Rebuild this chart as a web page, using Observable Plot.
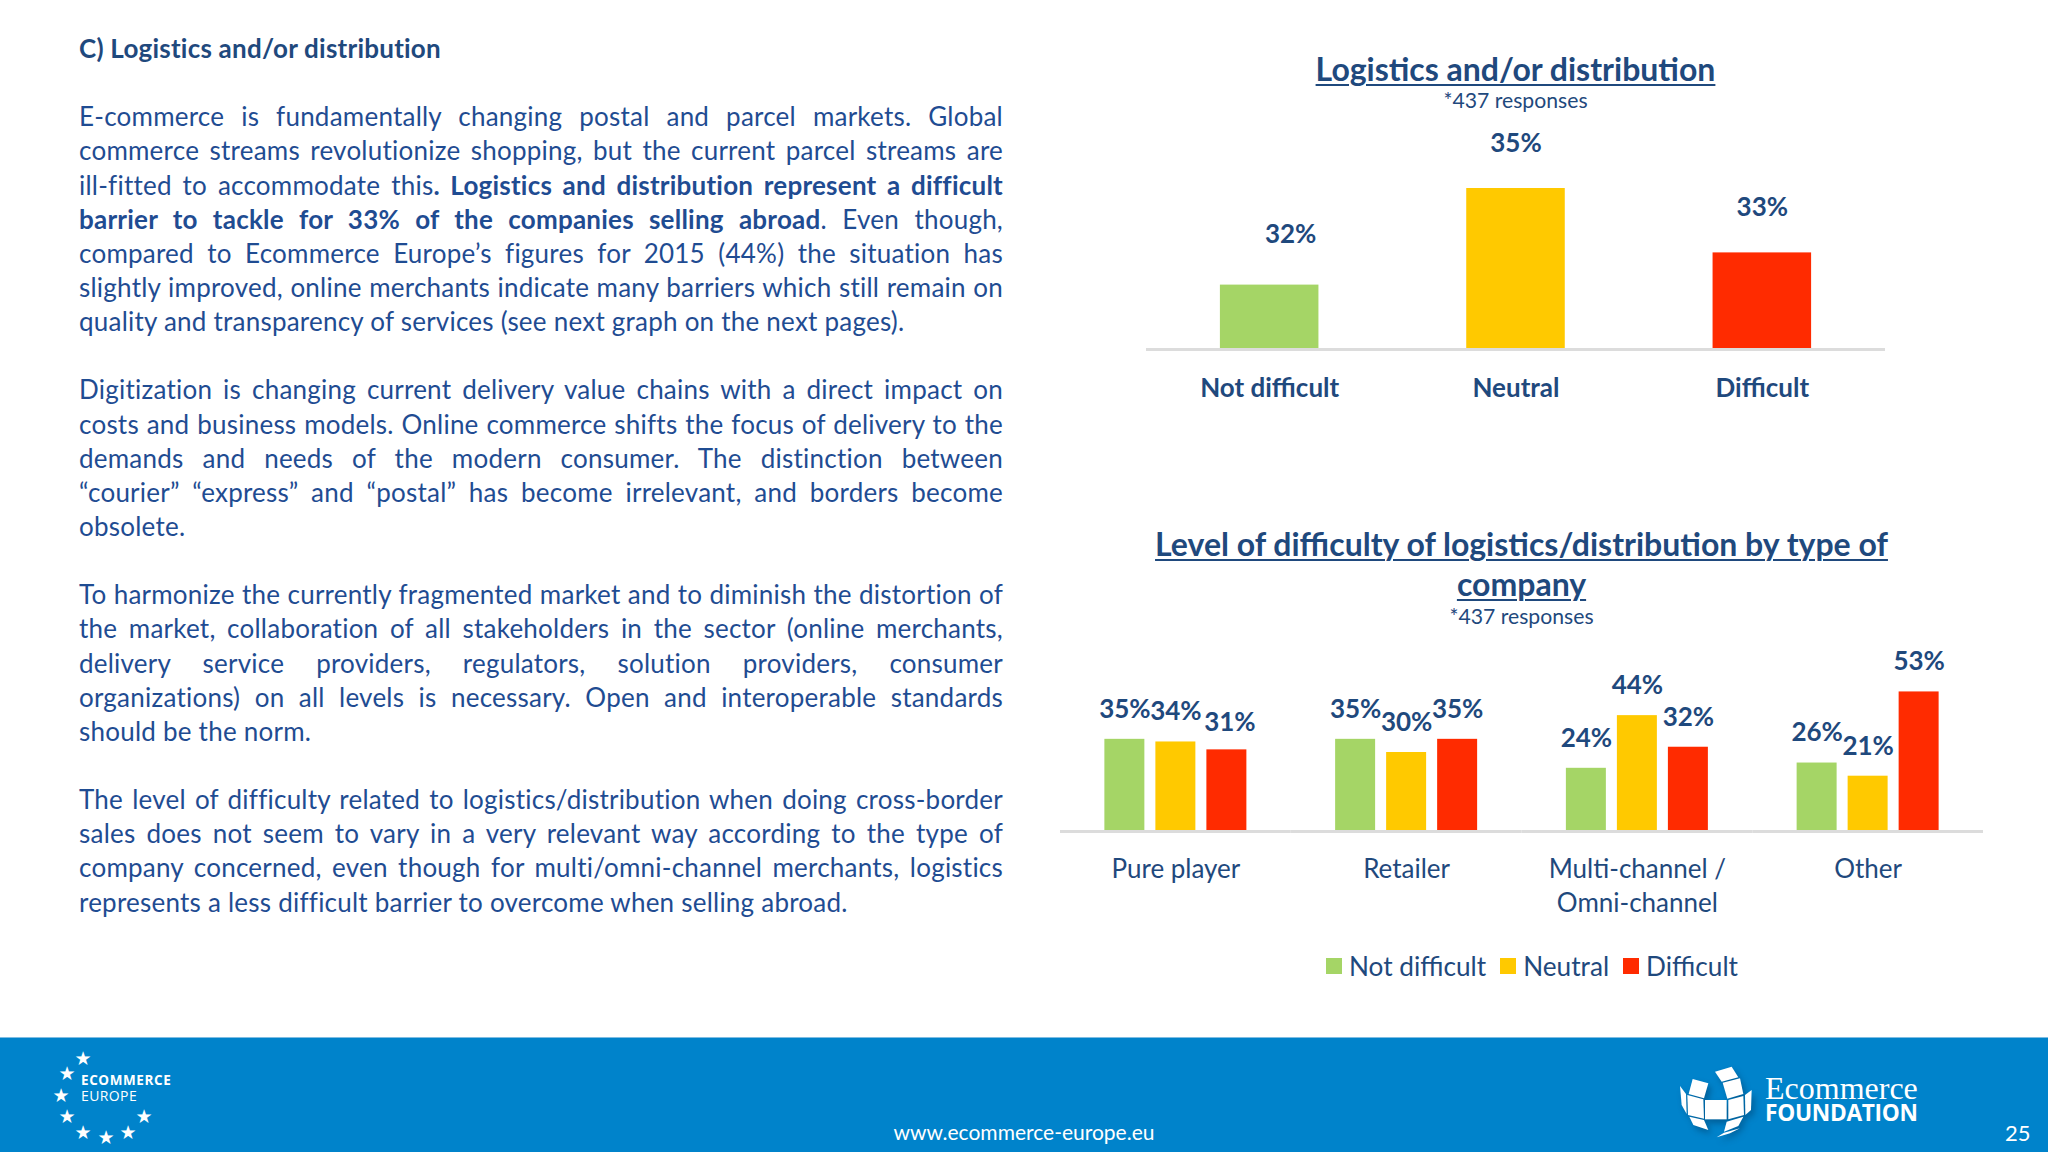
<!DOCTYPE html>
<html lang="en">
<head>
<meta charset="utf-8">
<title>Logistics and/or distribution</title>
<script src="https://cdn.jsdelivr.net/npm/d3@7"></script>
<script src="https://cdn.jsdelivr.net/npm/@observablehq/plot@0.6"></script>
<style>
  html, body { margin: 0; padding: 0; background: #fff; }
  #page { position: relative; width: 2048px; height: 1152px; overflow: hidden; background: #fff; font-family: Lato, sans-serif; color: #1f4a8c; }
  .abs { position: absolute; }
  #body { left: 79px; top: 31px; width: 924px; font-size: 26px; letter-spacing: .23px; line-height: 34.15px; color: #1f4c92; }
  #body .l { text-align: justify; text-align-last: justify; white-space: normal; height: 34.15px; }
  #body .e { text-align: left; text-align-last: left; white-space: nowrap; }
  #body .h { color: #1f497d; font-weight: 700; text-align-last: left; }
  #body b { font-weight: 700; }
  .title { color: #1f497d; font-weight: 700; text-align: center; text-decoration: underline; text-decoration-thickness: 2px; text-underline-offset: 3px; white-space: nowrap; }
  .sub { color: #1f497d; text-align: center; white-space: nowrap; }
  #legend { left: 1326px; top: 949px; display: flex; align-items: center; color: #1f497d; font-size: 26.2px; height: 34px; white-space: nowrap; }
  #legend .sw { width: 16px; height: 16px; margin-right: 7px; }
  #legend .it { display: flex; align-items: center; margin-right: 14px; }
  #banner { left: 0; top: 1037px; width: 2048px; height: 115px; background: #0083cb; border-top: 1px solid #7fbde2; box-sizing: border-box; }
  .w { color: #fff; white-space: nowrap; line-height: 1; }
  .star { font-family: "DejaVu Sans"; color: #fff; font-size: 19px; line-height: 1; transform: translate(-50%, -50%); }
</style>
</head>
<body>
<div id="page">
  <div id="body" class="abs">
    <div class="l h">C) Logistics and/or distribution</div>
    <div class="l"></div>
    <div class="l">E-commerce is fundamentally changing postal and parcel markets. Global</div>
    <div class="l">commerce streams revolutionize shopping, but the current parcel streams are</div>
    <div class="l">ill-fitted to accommodate this<b>. Logistics and distribution represent a difficult</b></div>
    <div class="l"><b>barrier to tackle for 33% of the companies selling abroad</b>. Even though,</div>
    <div class="l">compared to Ecommerce Europe’s figures for 2015 (44%) the situation has</div>
    <div class="l">slightly improved, online merchants indicate many barriers which still remain on</div>
    <div class="l e">quality and transparency of services (see next graph on the next pages).</div>
    <div class="l"></div>
    <div class="l">Digitization is changing current delivery value chains with a direct impact on</div>
    <div class="l">costs and business models. Online commerce shifts the focus of delivery to the</div>
    <div class="l">demands and needs of the modern consumer. The distinction between</div>
    <div class="l">“courier” “express” and “postal” has become irrelevant, and borders become</div>
    <div class="l e">obsolete.</div>
    <div class="l"></div>
    <div class="l">To harmonize the currently fragmented market and to diminish the distortion of</div>
    <div class="l">the market, collaboration of all stakeholders in the sector (online merchants,</div>
    <div class="l">delivery service providers, regulators, solution providers, consumer</div>
    <div class="l">organizations) on all levels is necessary. Open and interoperable standards</div>
    <div class="l e">should be the norm.</div>
    <div class="l"></div>
    <div class="l">The level of difficulty related to logistics/distribution when doing cross-border</div>
    <div class="l">sales does not seem to vary in a very relevant way according to the type of</div>
    <div class="l">company concerned, even though for multi/omni-channel merchants, logistics</div>
    <div class="l e">represents a less difficult barrier to overcome when selling abroad.</div>
  </div>

  <div class="abs title" style="left:1146px;width:739px;top:49px;font-size:32px;line-height:40px;">Logistics and/or distribution</div>
  <div class="abs sub" style="left:1146px;width:739px;top:86px;font-size:21.2px;line-height:28px;">*437 responses</div>
  <div id="chart1" class="abs" style="left:1146px;top:110px;"></div>

  <div class="abs title" style="left:1060px;width:923px;top:524px;font-size:32px;line-height:40px;">Level of difficulty of logistics/distribution by type of</div>
  <div class="abs title" style="left:1060px;width:923px;top:564px;font-size:32px;line-height:40px;">company</div>
  <div class="abs sub" style="left:1060px;width:923px;top:602px;font-size:21.2px;line-height:28px;">*437 responses</div>
  <div id="chart2" class="abs" style="left:1060px;top:640px;"></div>
  <div id="legend" class="abs"></div>

  <div id="banner" class="abs"></div>
  <div id="stars"></div>
  <div class="abs w" style="left:81px;top:1074px;font-size:13.5px;font-weight:700;letter-spacing:.6px;font-family:'Open Sans';">ECOMMERCE</div>
  <div class="abs w" style="left:81px;top:1089px;font-size:14px;letter-spacing:.4px;font-family:'Open Sans';">EUROPE</div>
  <div class="abs w" style="left:0;width:2048px;top:1121px;text-align:center;font-size:21px;">www.ecommerce-europe.eu</div>
  <svg class="abs" style="left:1600px;top:1020px;filter:drop-shadow(3px 4px 3px rgba(0,50,90,.45));" width="448" height="132" viewBox="0 0 1344 396" aria-hidden="true">
    <g fill="#fff">
      <polygon points="345,155 395,140 415,172 365,185"/>
      <polygon points="368,188 420,175 430,222 382,236"/>
      <polygon points="385,240 430,228 432,285 385,298"/>
      <polygon points="435,225 455,210 453,270 436,285"/>
      <polygon points="315,240 380,240 380,298 315,298"/>
      <polygon points="262,225 310,238 312,296 264,285"/>
      <polygon points="240,198 258,222 260,282 245,255"/>
      <polygon points="278,177 325,190 312,235 266,222"/>
      <polygon points="268,290 312,300 325,330 280,315"/>
      <polygon points="380,305 430,290 415,318 372,335"/>
      <polygon points="350,352 372,338 420,325 390,340"/>
    </g>
  </svg>
  <div class="abs w" style="left:1765px;top:1075px;font-family:'Liberation Serif';font-size:32px;line-height:27px;">Ecommerce</div>
  <div class="abs w" style="left:1765px;top:1102px;font-family:'Open Sans';font-weight:700;font-size:22.7px;letter-spacing:-.3px;">FOUNDATION</div>
  <div class="abs w" style="left:2005px;top:1122px;font-size:22px;">25</div>
</div>

<script>
// Overall chart
const difficultyLevels = ["Not difficult", "Neutral", "Difficult"];
const overallShares = [32, 35, 33];

// By type of company
const companyTypes = ["Pure player", "Retailer", "Multi-channel /\nOmni-channel", "Other"];
const notDifficultShares = [35, 35, 24, 26];
const neutralShares = [34, 30, 44, 21];
const difficultShares = [31, 35, 32, 53];

const levelColors = ["#a5d566", "#ffc900", "#ff2b00"];
const navy = "#1f497d";
const axisGrey = "#dcdcdc";

const overallRows = difficultyLevels.map((level, i) => ({level, share: overallShares[i]}));
const seriesByLevel = [notDifficultShares, neutralShares, difficultShares];
const companyRows = companyTypes.flatMap((type, t) =>
  difficultyLevels.map((level, l) => ({type, level, share: seriesByLevel[l][t]})));
const pct = d => d.share + "%";
const shifted = d => d.type === "Pure player" && d.level === "Difficult";

const chart1 = Plot.plot({
  width: 739, height: 300,
  marginTop: 78, marginBottom: 61, marginLeft: 0, marginRight: 0,
  style: {fontFamily: "Lato, sans-serif", background: "transparent", overflow: "visible"},
  x: {domain: difficultyLevels, paddingInner: 0.6, paddingOuter: 0.3, round: false, axis: null},
  y: {domain: [30, 35], axis: null},
  color: {domain: difficultyLevels, range: levelColors},
  marks: [
    Plot.barY(overallRows, {x: "level", y1: 30, y2: "share", fill: "level"}),
    Plot.ruleY([30], {stroke: axisGrey, strokeWidth: 3}),
    Plot.axisX({domain: difficultyLevels, tickSize: 0, tickPadding: 29, fontSize: 26, fontWeight: 700, fill: navy, label: null}),
    Plot.text(overallRows, {filter: d => d.level !== "Not difficult", x: "level", y: "share", text: pct, dy: -45, fontSize: 26, fontWeight: 700, fill: navy}),
    Plot.text(overallRows, {filter: d => d.level === "Not difficult", x: "level", y: "share", text: pct, dx: 21, dy: -50, fontSize: 26, fontWeight: 700, fill: navy})
  ]
});
document.getElementById("chart1").append(chart1);

const chart2 = Plot.plot({
  width: 923, height: 290,
  marginTop: 33, marginBottom: 99, marginLeft: 0, marginRight: 0,
  style: {fontFamily: "Lato, sans-serif", background: "transparent", overflow: "visible"},
  fx: {domain: companyTypes, padding: 0, round: false, axis: null},
  x: {domain: difficultyLevels, paddingInner: 0.216, paddingOuter: 0.87, round: false, axis: null},
  y: {domain: [0, 60], axis: null},
  color: {domain: difficultyLevels, range: levelColors},
  marks: [
    Plot.barY(companyRows, {fx: "type", x: "level", y: "share", fill: "level"}),
    Plot.ruleY([0], {stroke: axisGrey, strokeWidth: 3}),
    Plot.axisFx({anchor: "bottom", tickSize: 0, tickPadding: 22, fontSize: 26, lineHeight: 1.31, fill: navy, label: null}),
    Plot.text(companyRows, {filter: d => !shifted(d), fx: "type", x: "level", y: "share", text: pct, dy: -30, fontSize: 26, fontWeight: 700, fill: navy}),
    Plot.text(companyRows, {filter: shifted, fx: "type", x: "level", y: "share", text: pct, dx: 3, dy: -27, fontSize: 26, fontWeight: 700, fill: navy})
  ]
});
document.getElementById("chart2").append(chart2);

// Legend as real text, from the same arrays
const legend = d3.select("#legend");
difficultyLevels.forEach((level, i) => {
  const it = legend.append("div").attr("class", "it");
  it.append("div").attr("class", "sw").style("background", levelColors[i]);
  it.append("span").text(level);
});

// Logo stars (decoration, not data)
const starSpots = [[83,1058],[67,1073],[61,1095],[67,1116],[83,1132],[106,1137],[128,1132],[144,1116]];
d3.select("#stars").selectAll("div").data(starSpots).join("div")
  .attr("class", "abs star").style("left", d => d[0] + "px").style("top", d => d[1] + "px").text("★");
</script>
</body>
</html>
